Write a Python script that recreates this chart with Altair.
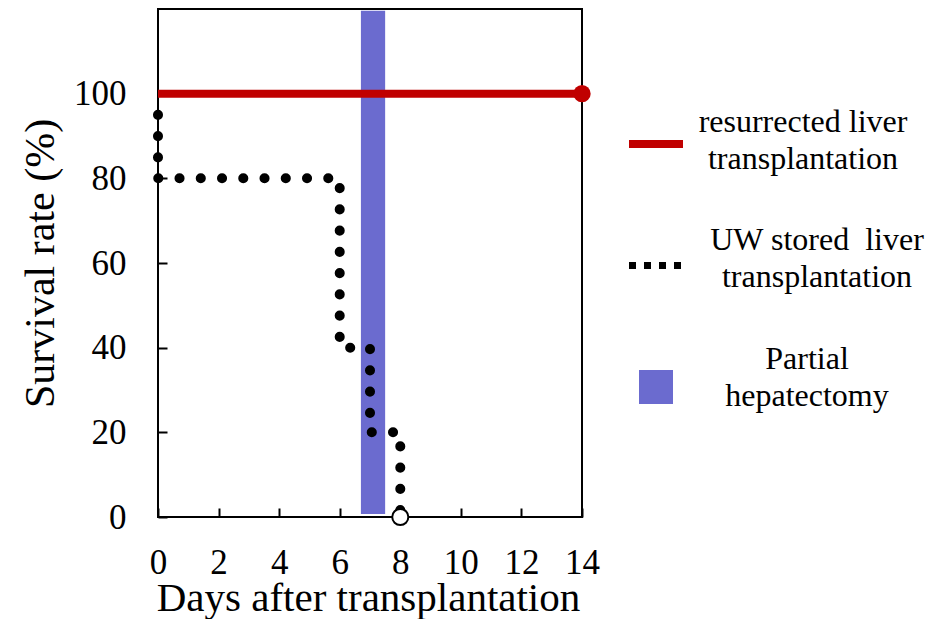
import altair as alt
import pandas as pd

FONT = "Liberation Serif"

# ---- data ----
days_ticks = [0, 2, 4, 6, 8, 10, 12, 14]
rate_ticks = [0, 20, 40, 60, 80, 100]

res_days = [0, 14]
res_rate = [100, 100]

uw_days = [0, 0, 6, 6, 7, 7, 8, 8]
uw_rate = [100, 80, 80, 40, 40, 20, 20, 0]

uw_end_day = [8]
uw_end_rate = [0]
res_end_day = [14]
res_end_rate = [100]

hep_start = [6.7]
hep_end = [7.5]
hep_low = [0.7]
hep_high = [119.6]

legend_rows = [0, 1, 2]
legend_labels = [
    "resurrected liver\ntransplantation",
    "UW stored\u00a0 liver\ntransplantation",
    "Partial\nhepatectomy",
]

RED = "#C00000"
BLUE = "#6B6BCF"

res_df = pd.DataFrame({"day": res_days, "rate": res_rate})
uw_df = pd.DataFrame({"day": uw_days, "rate": uw_rate, "step": list(range(len(uw_days)))})
uw_end_df = pd.DataFrame({"day": uw_end_day, "rate": uw_end_rate})
res_end_df = pd.DataFrame({"day": res_end_day, "rate": res_end_rate})
hep_df = pd.DataFrame({"x1": hep_start, "x2": hep_end, "y1": hep_low, "y2": hep_high})
leg_df = pd.DataFrame({"row": legend_rows, "label": legend_labels})

W, H = 424, 508
xs = alt.Scale(domain=[0, 14], nice=False, zero=False)
ys = alt.Scale(domain=[0, 120], nice=False, zero=False)

x_axis = alt.Axis(
    values=days_ticks, tickSize=0, labelPadding=28, labelFontSize=35, labelFont=FONT,
    labelColor="black", domain=False, grid=False, labelFlush=False, labelOverlap=False,
    title="Days after transplantation", titleFontSize=41, titleFont=FONT,
    titleFontWeight="normal", titleColor="black", titleX=W / 2 - 2, titleY=93,
    titleBaseline="alphabetic", titleAlign="center",
)
y_axis = alt.Axis(
    values=rate_ticks, tickSize=0, labelPadding=32, labelFontSize=35, labelFont=FONT,
    labelColor="black", domain=False, grid=False, labelFlush=False, labelOverlap=False,
    title="Survival rate (%)", titleFontSize=42, titleFont=FONT,
    titleFontWeight="normal", titleColor="black", titleX=-118, titleY=254,
    titleAngle=270, titleBaseline="middle", titleAlign="center",
)

band = alt.Chart(hep_df).mark_rect(color=BLUE).encode(
    x=alt.X("x1:Q", scale=xs, axis=x_axis),
    x2="x2:Q",
    y=alt.Y("y1:Q", scale=ys, axis=y_axis),
    y2="y2:Q",
)
uw_line = alt.Chart(uw_df).mark_line(
    color="black", strokeWidth=10, strokeCap="round", strokeDash=[0.1, 21.15],
    strokeDashOffset=0.1
).encode(
    x=alt.X("day:Q", scale=xs), y=alt.Y("rate:Q", scale=ys), order="step:Q"
)
red_line = alt.Chart(res_df).mark_line(color=RED, strokeWidth=8).encode(
    x=alt.X("day:Q", scale=xs), y=alt.Y("rate:Q", scale=ys)
)
red_pt = alt.Chart(res_end_df).mark_point(
    filled=True, color=RED, size=300, opacity=1, shape="circle"
).encode(x=alt.X("day:Q", scale=xs), y=alt.Y("rate:Q", scale=ys))
open_pt = alt.Chart(uw_end_df).mark_point(
    filled=True, fill="white", stroke="black", strokeWidth=2, size=260, opacity=1, shape="circle"
).encode(x=alt.X("day:Q", scale=xs), y=alt.Y("rate:Q", scale=ys))

main_layers = alt.layer(band, uw_line, red_line, red_pt, open_pt)

tick_layer = alt.Chart(res_df).mark_point(opacity=0).encode(
    x=alt.X("day:Q", scale=xs, axis=alt.Axis(
        orient="top", offset=-H, values=days_ticks, labels=False, domain=False,
        grid=False, tickSize=9, tickWidth=2, tickColor="black", title=None,
        minExtent=0, maxExtent=0)),
    y=alt.Y("rate:Q", scale=ys, axis=alt.Axis(
        orient="right", offset=-W, values=rate_ticks, labels=False, domain=False,
        grid=False, tickSize=9, tickWidth=2, tickColor="black", title=None,
        minExtent=0, maxExtent=0)),
)

main = alt.layer(main_layers, tick_layer).resolve_scale(
    x="independent", y="independent"
).resolve_axis(x="independent", y="independent").properties(
    width=W, height=H, view=alt.ViewBackground(stroke="black", strokeWidth=2)
)

# ---- legend panel ----
ly = alt.Y("row:Q", scale=alt.Scale(domain=[-1.111, 3.070], reverse=True, nice=False, zero=False), axis=None)

leg_red = alt.Chart(leg_df).transform_filter("datum.row == 0").mark_rule(
    color=RED, strokeWidth=8
).encode(x=alt.value(47), x2=alt.value(101), y=ly)
leg_dot = alt.Chart(leg_df).transform_filter("datum.row == 1").mark_rule(
    color="black", strokeWidth=7, strokeDash=[7, 8]
).encode(x=alt.value(47), x2=alt.value(101), y=ly)
leg_sq = alt.Chart(leg_df).transform_filter("datum.row == 2").mark_square(
    color=BLUE, size=1156, opacity=1, filled=True
).encode(x=alt.value(74), y=ly)

txt_style = dict(align="center", baseline="alphabetic", fontSize=32, font=FONT,
                 lineBreak="\n", lineHeight=37, color="black")
leg_txt0 = alt.Chart(leg_df).transform_filter("datum.row == 0").mark_text(
    dy=-12, **txt_style).encode(x=alt.value(221), y=ly, text="label:N")
leg_txt1 = alt.Chart(leg_df).transform_filter("datum.row == 1").mark_text(
    dy=-15, **txt_style).encode(x=alt.value(235), y=ly, text="label:N")
leg_txt2 = alt.Chart(leg_df).transform_filter("datum.row == 2").mark_text(
    dy=-18, **txt_style).encode(x=alt.value(225), y=ly, text="label:N")

legend = alt.layer(leg_red, leg_dot, leg_sq, leg_txt0, leg_txt1, leg_txt2).properties(
    width=340, height=H, view=alt.ViewBackground(strokeOpacity=0)
)

chart = alt.hconcat(main, legend, spacing=0, bounds="flush").properties(
    background="white",
    padding={"left": 10, "top": 0, "right": 0, "bottom": 0},
)

chart.save("out.html", embed_options={"renderer": "svg", "actions": False})
